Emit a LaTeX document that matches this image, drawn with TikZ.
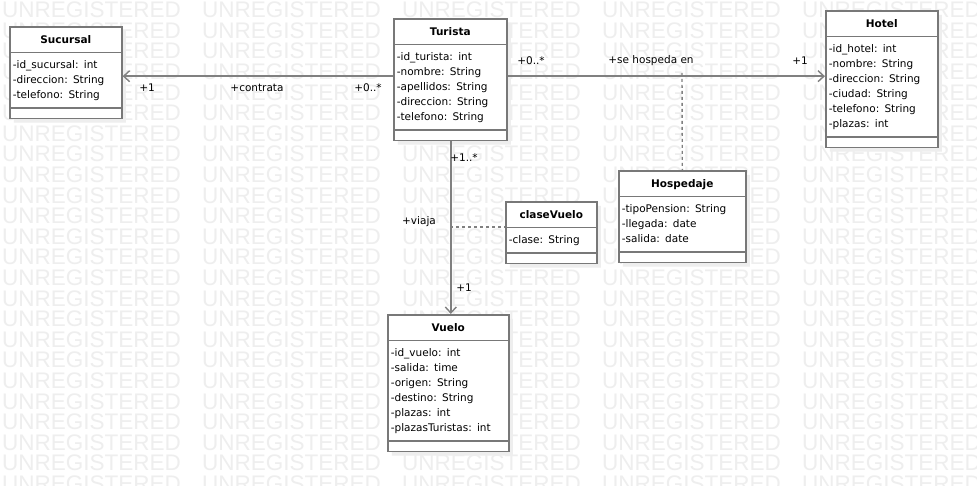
\documentclass[tikz,border=0pt]{standalone}
\usepackage{fontspec}
\newfontfamily\umlfont{DejaVu Sans}
\newfontfamily\wmfont{Liberation Sans}
\usetikzlibrary{shapes.multipart,arrows.meta,shadows}
\definecolor{umlborder}{RGB}{120,120,120}
\definecolor{umlline}{RGB}{128,128,128}
\definecolor{umlshadow}{RGB}{238,238,238}
\definecolor{watermark}{RGB}{238,238,238}
\newcommand\ustrut{\rule[-4pt]{0pt}{15pt}}
\newcommand\umltitle[1]{\hspace*{0pt plus 1filll}\textbf{#1}\ustrut\hspace*{0pt plus 1filll}\null}

\begin{document}
\begin{tikzpicture}[x=1pt, y=-1pt,
    umlclass/.style={rectangle split, rectangle split parts=3, draw=umlborder, line width=1.6pt, fill=white, anchor=north west, align=left, inner xsep=3pt, inner ysep=4.5pt, rectangle split empty part height=0pt, rectangle split empty part depth=0pt, font=\umlfont\fontsize{10.5}{15}\selectfont, general shadow={fill=umlshadow, shadow xshift=4pt, shadow yshift=-4pt}},
    assoc/.style={-{Straight Barb[length=6pt,width=11pt]}, umlline, line width=1.4pt},
    assocdot/.style={umlline, line width=1.4pt, dash pattern=on 3pt off 3pt},
    role/.style={font=\umlfont\fontsize{10.5}{13}\selectfont, inner sep=0pt},
    wmark/.style={font=\wmfont\fontsize{22.5}{24}\selectfont, text=watermark, anchor=west, inner sep=0pt}
]
\useasboundingbox[fill=white] (0,0) rectangle (977,486);

% Watermark
\foreach \r in {0,...,23}
  \foreach \c in {0,...,4}
    \node[wmark] (wm-\r-\c) at (200*\c+2, 20.6*\r+10) {UNREGISTERED};

% Classes
\node[umlclass, text width=106pt] (sucursal) at (9,26) {\umltitle{Sucursal}
  \nodepart{second}\ustrut-id\_sucursal: int\\-direccion: String\\-telefono: String\ustrut
  \nodepart{third}};
\node[umlclass, text width=107pt] (turista) at (393,18) {\umltitle{Turista}
  \nodepart{second}\ustrut-id\_turista: int\\-nombre: String\\-apellidos: String\\-direccion: String\\-telefono: String\ustrut
  \nodepart{third}};
\node[umlclass, text width=106pt] (hotel) at (825,10) {\umltitle{Hotel}
  \nodepart{second}\ustrut-id\_hotel: int\\-nombre: String\\-direccion: String\\-ciudad: String\\-telefono: String\\-plazas: int\ustrut
  \nodepart{third}};
\node[umlclass, text width=121pt] (hospedaje) at (618,170) {\umltitle{Hospedaje}
  \nodepart{second}\ustrut-tipoPension: String\\-llegada: date\\-salida: date\ustrut
  \nodepart{third}};
\node[umlclass, text width=85pt] (clasevuelo) at (505,201) {\umltitle{claseVuelo}
  \nodepart{second}\ustrut-clase: String\ustrut
  \nodepart{third}};
\node[umlclass, text width=115pt] (vuelo) at (387,314) {\umltitle{Vuelo}
  \nodepart{second}\ustrut-id\_vuelo: int\\-salida: time\\-origen: String\\-destino: String\\-plazas: int\\-plazasTuristas: int\ustrut
  \nodepart{third}};

% Associations
\coordinate (hospline) at (682,73);
\coordinate (viajaline) at (450,227);
\draw[assoc] ([yshift=3.5pt]turista.west) -- ([yshift=-3.5pt]sucursal.east);
\draw[assoc] ([yshift=3.5pt]turista.east) -- ([yshift=3pt]hotel.west);
\draw[assoc] ([xshift=0.5pt]turista.south) -- ([xshift=2.5pt]vuelo.north);
\draw[assocdot] (hospline) -- (hospedaje.north);
\draw[assocdot] (viajaline) -- (clasevuelo.west |- viajaline);

% Roles
\node[role] (r-suc) at (147,88) {+1};
\node[role] (r-contrata) at (257,88) {+contrata};
\node[role] (r-tur1) at (368,88) {+0..*};
\node[role] (r-tur2) at (531,61) {+0..*};
\node[role] (r-hosp) at (651,61) {+se hospeda en};
\node[role] (r-hot) at (800,61) {+1};
\node[role] (r-tur3) at (464,158) {+1..*};
\node[role] (r-viaja) at (419,222) {+viaja};
\node[role] (r-vue) at (464,288) {+1};

\end{tikzpicture}
\end{document}
